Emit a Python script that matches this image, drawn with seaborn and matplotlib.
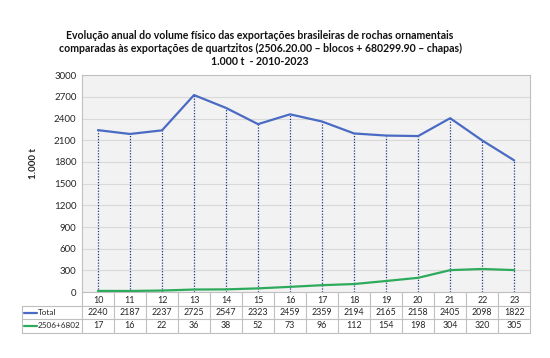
import numpy as np
import pandas as pd
import matplotlib
matplotlib.use("Agg")
import matplotlib.pyplot as plt
import seaborn as sns

years = [10, 11, 12, 13, 14, 15, 16, 17, 18, 19, 20, 21, 22, 23]
total = [2240, 2187, 2237, 2725, 2547, 2323, 2459, 2359, 2194, 2165, 2158, 2405, 2098, 1822]
quartz = [17, 16, 22, 36, 38, 52, 73, 96, 112, 154, 198, 304, 320, 305]
row_names = ["Total", "2506+6802"]
yticks = list(range(0, 3001, 300))

title = ("Evolução anual do volume físico das exportações brasileiras de rochas ornamentais\n"
         "comparadas às exportações de quartzitos (2506.20.00 – blocos + 680299.90 – chapas)\n"
         "1.000 t  - 2010-2023")

sns.set_style("white")
plt.rcParams["font.family"] = ["Lato", "DejaVu Sans"]

blue = "#4a6bc3"
green = "#2eaa5c"
navy = "#1f3a8a"
border = "#bfbfbf"
txt = "#262626"

df = pd.DataFrame({"ano": years, "Total": total, "2506+6802": quartz})

fig = plt.figure(figsize=(5.5, 3.58), dpi=100)
ax = fig.add_axes([0.149, 0.184, 0.815, 0.606])
ax.set_facecolor("#f2f2f2")

ax.vlines(years, 0, total, colors=navy, linestyles=(0, (1, 1.3)), linewidth=0.9, zorder=2)
sns.lineplot(data=df, x="ano", y="Total", color=blue, linewidth=1.6, ax=ax, zorder=3)
sns.lineplot(data=df, x="ano", y="2506+6802", color=green, linewidth=1.6, ax=ax, zorder=3)

ax.set_xlim(years[0] - 0.5, years[-1] + 0.5)
ax.set_ylim(0, 3000)
ax.set_yticks(yticks)
ax.set_yticklabels([str(t) for t in yticks], fontsize=7, color=txt)
ax.set_xticks(years)
ax.set_xticklabels([str(y) for y in years], fontsize=6.4, color=txt)
ax.tick_params(axis="both", length=0, pad=4)
ax.tick_params(axis="x", pad=3)
ax.yaxis.grid(True, color="#d9d9d9", linewidth=0.8)
ax.set_axisbelow(True)
for s in ax.spines.values():
    s.set_color(border)
    s.set_linewidth(0.8)

ax.set_xlabel("")
ax.set_ylabel("1.000 t", fontsize=7, fontweight="bold", color=txt)
ax.yaxis.set_label_coords(-0.097, 0.594)

# data table below the axis
xt = ax.get_xaxis_transform()
r1, r2, r3 = -0.0645, -0.1244, -0.1866
lx = -0.134
for b in np.arange(years[0] - 0.5, years[-1] + 1, 1):
    ax.plot([b, b], [0, r3], transform=xt, color=border, lw=0.8, clip_on=False)
for r in (r1, r2, r3):
    ax.plot([lx, 1], [r, r], transform=ax.transAxes, color=border, lw=0.8, clip_on=False)
ax.plot([lx, lx], [r1, r3], transform=ax.transAxes, color=border, lw=0.8, clip_on=False)

for vals, name, col, yc in ((total, row_names[0], blue, (r1 + r2) / 2),
                            (quartz, row_names[1], green, (r2 + r3) / 2)):
    for x, v in zip(years, vals):
        ax.text(x, yc, str(v), transform=xt, ha="center", va="center", fontsize=6.4, color=txt)
    ax.plot([-0.13, -0.1], [yc, yc], transform=ax.transAxes, color=col, lw=1.6, clip_on=False)
    ax.text(-0.098, yc, name, transform=ax.transAxes, ha="left", va="center", fontsize=5.9, color=txt)

fig.text(0.473, 0.865, title, ha="center", va="center", fontsize=7.6, fontweight="bold",
         color="#111111", linespacing=1.25)

fig.savefig("out.png", dpi=100, facecolor="white")
